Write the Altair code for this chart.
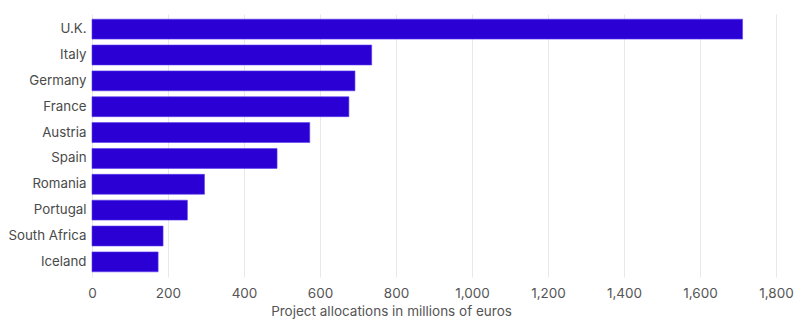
import altair as alt
import pandas as pd

countries = ["U.K.", "Italy", "Germany", "France", "Austria", "Spain",
             "Romania", "Portugal", "South Africa", "Iceland"]
allocations = [1712, 736, 692, 676, 573, 487, 296, 251, 187, 174]
x_ticks = [0, 200, 400, 600, 800, 1000, 1200, 1400, 1600, 1800]

df = pd.DataFrame({"country": countries, "value": allocations})

FONT = "Inter"

chart = alt.Chart(df).mark_bar(
    color="#2b00d4", stroke="#5a3cf0", strokeWidth=0.6
).encode(
    x=alt.X(
        "value:Q",
        scale=alt.Scale(domain=[0, 1800], nice=False),
        axis=alt.Axis(
            values=x_ticks,
            format=",d",
            title="Project allocations in millions of euros",
            grid=True,
            gridColor="#e8e8e8",
            gridWidth=1,
            domain=False,
            ticks=False,
            labelFlush=False,
            labelPadding=9,
            labelFontSize=13.5,
            labelColor="#555555",
            labelFont=FONT,
            titleFont=FONT,
            titleFontSize=13.5,
            titleFontWeight="normal",
            titleColor="#555555",
            titleX=299,
            titleY=34,
            titleAlign="center",
            titleBaseline="middle",
        ),
    ),
    y=alt.Y(
        "country:N",
        sort=countries,
        scale=alt.Scale(paddingInner=0.23, paddingOuter=0.2),
        axis=alt.Axis(
            title=None,
            domain=False,
            ticks=False,
            grid=False,
            labelPadding=6,
            labelFontSize=13.3,
            labelColor="#4a4a4a",
            labelFont=FONT,
        ),
    ),
).properties(
    width=684,
    height=263,
    padding={"left": 92, "top": 14, "right": 24, "bottom": 48},
    autosize=alt.AutoSizeParams(type="none"),
).configure_view(stroke=None)

chart.save("out.html", embed_options={"renderer": "svg", "actions": False})
